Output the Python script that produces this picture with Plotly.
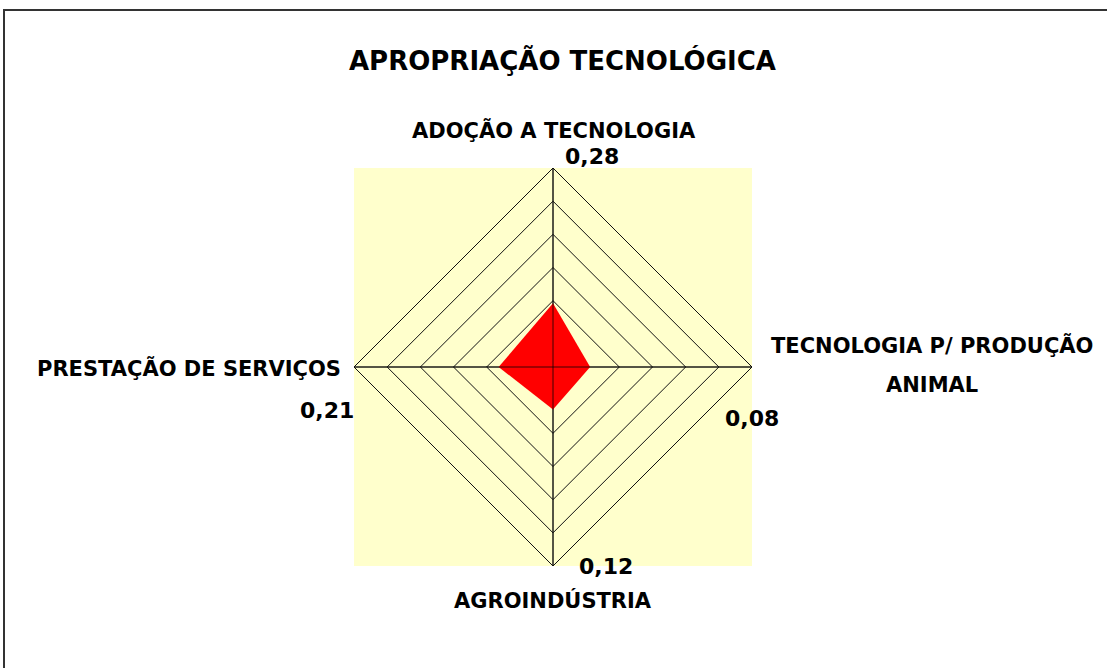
import plotly.graph_objects as go

W, H = 1107, 668

categories = ['ADOÇÃO A TECNOLOGIA', 'TECNOLOGIA P/ PRODUÇÃO<br>ANIMAL',
              'AGROINDÚSTRIA', 'PRESTAÇÃO DE SERVIÇOS']
values = [0.28, 0.08, 0.12, 0.21]
ring_vals = [0.3, 0.55, 0.8, 1.05, 1.3]
r_range = [-0.2, 1.3]

FONT = 'DejaVu Sans, Verdana, sans-serif'


def px_x(x):
    return x / W


def px_y(y):
    return 1 - y / H


fig = go.Figure()

# filled polygon
fig.add_trace(go.Scatterpolar(
    r=values + values[:1], theta=categories + categories[:1],
    fill='toself', fillcolor='#ff0000', mode='lines',
    line=dict(color='#ff0000', width=0), hoverinfo='skip', showlegend=False))

# spokes on top of the fill
spoke_r, spoke_t = [], []
for c in categories:
    spoke_r += [r_range[0], r_range[1], None]
    spoke_t += [c, c, None]
fig.add_trace(go.Scatterpolar(
    r=spoke_r, theta=spoke_t, mode='lines',
    line=dict(color='rgba(0,0,0,0.75)', width=1), hoverinfo='skip', showlegend=False))

dom_x = [px_x(354), px_x(752)]
dom_y = [px_y(566), px_y(168)]

fig.update_layout(
    width=W, height=H,
    margin=dict(l=0, r=0, t=0, b=0),
    paper_bgcolor='white',
    showlegend=False,
    polar=dict(
        domain=dict(x=dom_x, y=dom_y),
        bgcolor='#ffffcc',
        gridshape='linear',
        angularaxis=dict(rotation=90, direction='clockwise', showticklabels=False,
                         ticks='', showline=True, linecolor='#111', linewidth=1,
                         gridcolor='#111', gridwidth=1),
        radialaxis=dict(range=r_range, tickvals=ring_vals, showticklabels=False,
                        ticks='', showline=False, gridcolor='#111', gridwidth=1),
    ),
    shapes=[
        dict(type='rect', xref='paper', yref='paper', layer='below',
             x0=dom_x[0], x1=dom_x[1], y0=dom_y[0], y1=dom_y[1],
             fillcolor='#ffffcc', line=dict(width=0)),
        dict(type='rect', xref='paper', yref='paper',
             x0=px_x(4), x1=px_x(1300), y0=px_y(800), y1=px_y(10),
             line=dict(color='#333', width=2)),
    ],
)

ann = []
ann.append(dict(text='APROPRIAÇÃO TECNOLÓGICA', x=px_x(562), y=px_y(60),
                font=dict(size=26)))

# category labels, one annotation per text line
cat_pos = [(554, 130, 'center'), (932, 345, 'center'), (553, 600, 'center'),
           (343, 368, 'right')]
for c, (x, y, anchor) in zip(categories, cat_pos):
    for i, line in enumerate(c.split('<br>')):
        ann.append(dict(text=line, x=px_x(x), y=px_y(y + 40 * i), xanchor=anchor,
                        font=dict(size=21)))

val_pos = [(592, 157), (752, 418), (606, 566), (327, 410)]
for v, (x, y) in zip(values, val_pos):
    ann.append(dict(text=f'{v:.2f}'.replace('.', ','),
                    x=px_x(x), y=px_y(y), font=dict(size=22)))
for a in ann:
    a.setdefault('xanchor', 'center')
    a.update(xref='paper', yref='paper', showarrow=False, yanchor='middle')
    a['font'].update(family=FONT, color='black', weight='bold')
fig.update_layout(annotations=ann)

fig.write_html("out.html", config={'displayModeBar': False},
               post_script="document.body.style.margin='0';")
